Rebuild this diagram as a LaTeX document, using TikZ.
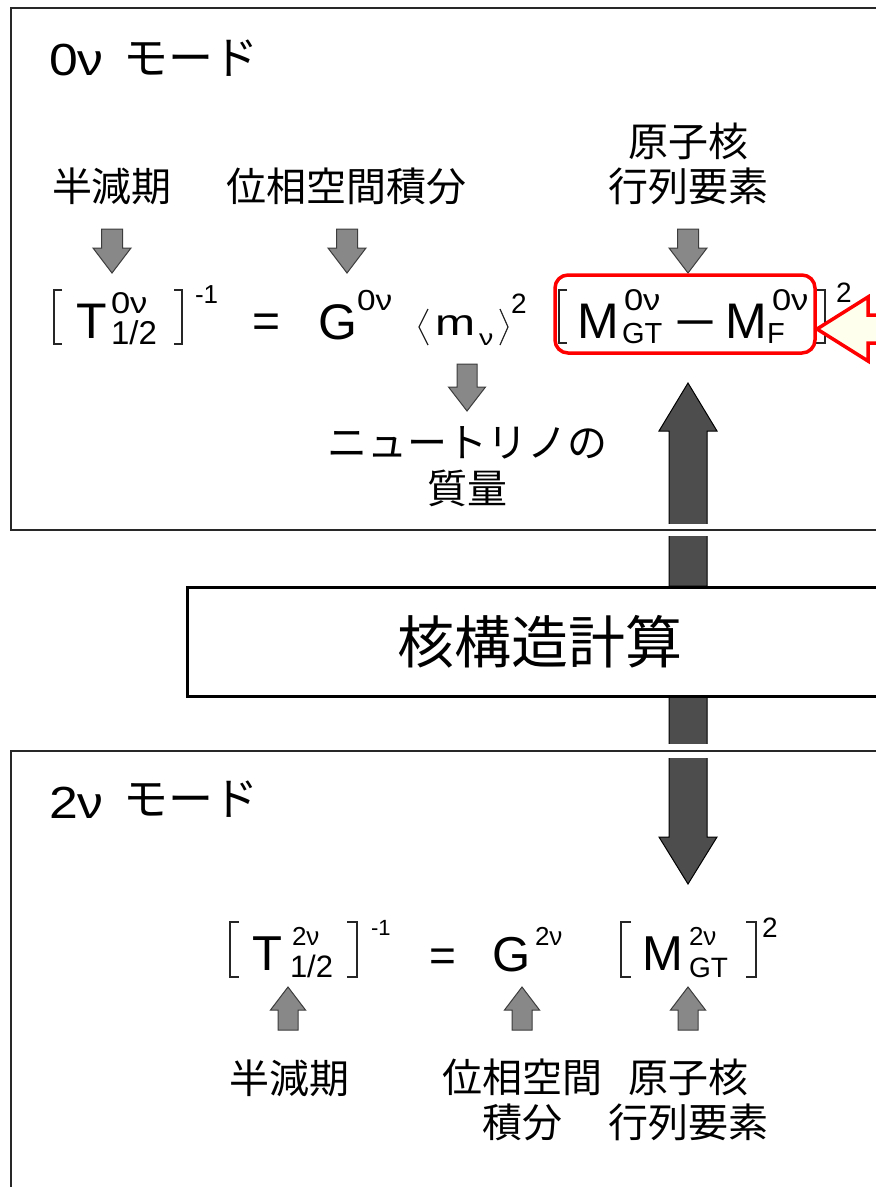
\documentclass[tikz,border=0pt]{standalone}
\usepackage{fontspec}
\setmainfont{Liberation Sans}
\newfontfamily\jp{Noto Sans CJK JP}
\newfontfamily\widefont[FakeStretch=1.3]{Liberation Sans}
\newfontfamily\supfont[FakeStretch=1.15]{Liberation Sans}
\newfontfamily\minusfont[FakeStretch=1.5]{Liberation Sans}
\newcommand\fsz[1]{\fontsize{#1}{#1}\selectfont}
\definecolor{arrowgray}{RGB}{136,136,136}
\definecolor{arrowedge}{RGB}{60,60,60}
\definecolor{darkarrow}{RGB}{77,77,77}
\definecolor{ivoryfill}{RGB}{255,255,238}
\definecolor{boxedge}{RGB}{40,40,40}
% vertical block arrow: style, x, y tail, y head base, y tip, shaft half width, head half width
\newcommand\varrow[7]{%
  \draw[#1] (#2-#6,#3) -- (#2-#6,#4) -- (#2-#7,#4) -- (#2,#5) -- (#2+#7,#4) -- (#2+#6,#4) -- (#2+#6,#3) -- cycle;}
\tikzset{
  lbl/.style={inner sep=0pt, outer sep=0pt, align=center, font=\jp\fontsize{40}{45}\selectfont},
  eq/.style={inner sep=0pt, outer sep=0pt, anchor=base west},
  brk/.style={draw=black!85, line width=1.5pt},
  smallarrow/.style={fill=arrowgray, draw=arrowedge, line width=1pt, line join=miter},
  bigarrow/.style={fill=darkarrow, draw=black, line width=1pt, line join=miter},
  boxline/.style={draw=boxedge, line width=2pt},
  calcbox/.style={draw=black, line width=3pt, fill=white, inner sep=0pt, font=\jp\fsz{57}},
  redframe/.style={draw=red, line width=3.5pt, rounded corners=13pt, inner sep=0pt},
  callout/.style={draw=red, fill=ivoryfill, line width=3.5pt, line join=miter}
}
\begin{document}
\begin{tikzpicture}[x=1pt,y=-1pt]
\useasboundingbox (0,0) rectangle (876,1187);
\clip (0,0) rectangle (876,1187);
\fill[white] (0,0) rectangle (876,1187);

% big dark arrows from the calculation box
\varrow{bigarrow}{688}{586}{431}{383}{19}{29}
\varrow{bigarrow}{688}{695}{837}{884}{19}{29}

% mode boxes (white halo cuts the big arrows)
\draw[boxline, preaction={draw=white, line width=12pt}] (11,8) rectangle (900,530);
\draw[boxline, preaction={draw=white, line width=14pt}] (11,751) rectangle (900,1220);

% calculation box
\node[calcbox, anchor=north west, minimum width=704pt, minimum height=109pt] (calc) at (186,586) {核構造計算};

% ---------- 0nu mode ----------
\node[eq, font=\supfont\fsz{45}] (t0a) at (49,75) {0ν};
\node[lbl, font=\jp\fsz{45}] (t0b) at (191,58) {モード};

\node[lbl] (hl0) at (112,186) {半減期};
\node[lbl] (ps0) at (346,186) {位相空間積分};
\node[lbl] (me0) at (688,163.5) {原子核\\行列要素};

\varrow{smallarrow}{112}{229}{248}{273}{10.5}{19}
\varrow{smallarrow}{347}{229}{248}{273}{10.5}{19}
\varrow{smallarrow}{688}{229}{248}{273}{10.5}{19}

% equation 0nu
\draw[brk] (62,290) -- (54,290) -- (54,344) -- (62,344);
\node[eq, font=\fsz{50}] (T0) at (76,338) {T};
\node[eq, font=\supfont\fsz{30}] (T0sup) at (111,313) {0ν};
\node[eq, font=\fsz{33}] (T0sub) at (111,344) {1/2};
\draw[brk] (174,290) -- (182,290) -- (182,344) -- (174,344);
\node[eq, font=\fsz{26}] (T0exp) at (195,303) {-1};
\node[inner sep=0pt, anchor=base, font=\fsz{48}] (eq0) at (267,337) {=};
\node[eq, font=\fsz{50}] (G0) at (318,339) {G};
\node[eq, font=\supfont\fsz{29}] (G0sup) at (357,310) {0ν};
\draw[brk, line width=1.2pt] (428,309) -- (419,327) -- (428,345);
\node[eq, font=\widefont\fsz{37}] (m0) at (435,335) {m};
\node[eq, font=\widefont\fsz{22}] (m0sub) at (479,345) {ν};
\draw[brk, line width=1.2pt] (500,309) -- (508,327) -- (500,345);
\node[eq, font=\fsz{28}] (m0exp) at (511,313) {2};

\draw[brk] (567,290) -- (559,290) -- (559,343) -- (567,343);
\node[eq, font=\fsz{50}] (M0a) at (577,338) {M};
\node[eq, font=\supfont\fsz{30}] (M0asup) at (624,310) {0ν};
\node[eq, font=\fsz{29}] (M0asub) at (622,343) {GT};
\node[inner sep=0pt, anchor=base, font=\minusfont\fsz{48}] (minus0) at (696,338) {−};
\node[eq, font=\fsz{50}] (M0b) at (725,338) {M};
\node[eq, font=\supfont\fsz{30}] (M0bsup) at (772,310) {0ν};
\node[eq, font=\fsz{29}] (M0bsub) at (767,343) {F};
\draw[brk] (816,290) -- (825,290) -- (825,343) -- (816,343);
\node[eq, font=\fsz{28}] (M0exp) at (836,302) {2};

\varrow{smallarrow}{467}{364}{387}{411}{10}{18.5}
\node[lbl, font=\jp\fontsize{40}{46}\selectfont] (nm) at (467,467) {ニュートリノの\\質量};

% highlight
\node[redframe, minimum width=260pt, minimum height=78pt] (redbox) at (685,314) {};
\coordinate (ytip) at (817,329);
\draw[callout] (ytip) -- (868,297) -- (868,315) -- (905,315) -- (905,343) -- (868,343) -- (868,361) -- cycle;

% ---------- 2nu mode ----------
\node[eq, font=\supfont\fsz{45}] (t2a) at (49,818) {2ν};
\node[lbl, font=\jp\fsz{45}] (t2b) at (191,799) {モード};

\draw[brk] (239,922) -- (230,922) -- (230,977) -- (239,977);
\node[eq, font=\fsz{49}] (T2) at (252,970) {T};
\node[eq, font=\fsz{26}] (T2sup) at (292,945) {2ν};
\node[eq, font=\fsz{31}] (T2sub) at (290,977) {1/2};
\draw[brk] (347,922) -- (357,922) -- (357,977) -- (347,977);
\node[eq, font=\fsz{22}] (T2exp) at (371,935) {-1};
\node[inner sep=0pt, anchor=base, font=\fsz{46}] (eq2) at (443,971) {=};
\node[eq, font=\fsz{49}] (G2) at (492,971) {G};
\node[eq, font=\fsz{26}] (G2sup) at (535,945) {2ν};
\draw[brk] (631,922) -- (621,922) -- (621,977) -- (631,977);
\node[eq, font=\fsz{49}] (M2) at (642,970) {M};
\node[eq, font=\fsz{26}] (M2sup) at (689,945) {2ν};
\node[eq, font=\fsz{28}] (M2sub) at (689,977) {GT};
\draw[brk] (746,922) -- (756,922) -- (756,977) -- (746,977);
\node[eq, font=\fsz{28}] (M2exp) at (762,937) {2};

\varrow{smallarrow}{288}{1030}{1010}{987}{10}{17.5}
\varrow{smallarrow}{522}{1030}{1010}{987}{10}{17.5}
\varrow{smallarrow}{688}{1030}{1010}{987}{10}{17.5}

\node[lbl] (hl2) at (289,1078) {半減期};
\node[lbl] (ps2) at (522,1100) {位相空間\\積分};
\node[lbl] (me2) at (688,1100) {原子核\\行列要素};
\end{tikzpicture}
\end{document}
